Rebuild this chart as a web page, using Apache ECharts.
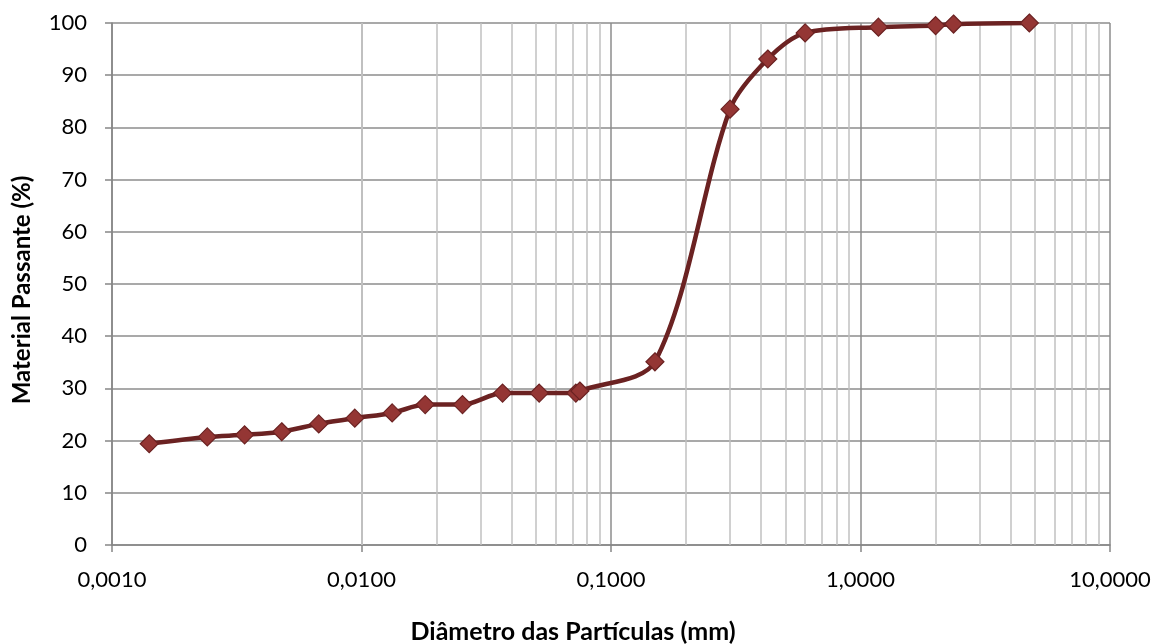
<!DOCTYPE html>
<html>
<head>
<meta charset="utf-8">
<script src="https://cdn.jsdelivr.net/npm/echarts@6/dist/echarts.min.js"></script>
<style>
html,body{margin:0;padding:0;background:#fff;}
#c{width:1154px;height:644px;}
</style>
</head>
<body>
<div id="c"></div>
<script>
// Particle diameter (mm) and percent passing
const diameters = [0.00141, 0.00241, 0.00340, 0.00479, 0.00674, 0.0094, 0.01327, 0.0180, 0.0254, 0.03676, 0.05154, 0.0723, 0.075, 0.15, 0.30, 0.425, 0.60, 1.18, 2.00, 2.36, 4.75];
const passing   = [19.4, 20.7, 21.1, 21.7, 23.2, 24.3, 25.3, 26.9, 26.9, 29.1, 29.1, 29.1, 29.5, 35.1, 83.5, 93.1, 98.1, 99.2, 99.5, 99.8, 100];
// minor (log) gridline positions
const minorGrid = [0.002,0.003,0.004,0.005,0.006,0.007,0.008,0.009,
                   0.02,0.03,0.04,0.05,0.06,0.07,0.08,0.09,
                   0.2,0.3,0.4,0.5,0.6,0.7,0.8,0.9,
                   2,3,4,5,6,7,8,9];
const xTitle = 'Diâmetro das Partículas (mm)';
const yTitle = 'Material Passante (%)';

const FONT = 'Lato';
const chart = echarts.init(document.getElementById('c'), null, {renderer:'canvas'});
chart.setOption({
  animation:false,
  backgroundColor:'#ffffff',
  grid:{left:112, right:44, top:23, bottom:99, containLabel:false, outerBoundsMode:'none'},
  xAxis:{
    type:'log', logBase:10, min:0.001, max:10,
    name:xTitle, nameLocation:'middle', nameGap:74,
    nameTextStyle:{fontFamily:FONT, fontSize:25, fontWeight:'bold', color:'#000', padding:[0,76,0,0]},
    axisLine:{show:true, onZero:false, lineStyle:{color:'#868686', width:1.5}},
    axisTick:{show:true, inside:false, length:7, lineStyle:{color:'#868686', width:1.5}},
    axisLabel:{fontFamily:FONT, fontSize:22, color:'#000', margin:24,
      formatter:v=>v.toFixed(4).replace('.',',')},
    splitLine:{show:true, lineStyle:{color:'#8c8c8c', width:1.5}},
    minorTick:{show:false}, minorSplitLine:{show:false}
  },
  yAxis:{
    type:'value', min:0, max:100, interval:10,
    name:yTitle, nameLocation:'middle', nameGap:78, nameRotate:90,
    nameTextStyle:{fontFamily:FONT, fontSize:24, fontWeight:'bold', color:'#000', padding:[0,12,0,0]},
    axisLine:{show:true, lineStyle:{color:'#868686', width:1.5}},
    axisTick:{show:true, inside:false, length:7, lineStyle:{color:'#868686', width:1.5}},
    axisLabel:{fontFamily:FONT, fontSize:22, color:'#000', margin:25},
    splitLine:{show:true, lineStyle:{color:'#8c8c8c', width:1.5}}
  },
  series:[
    {
      type:'line', data:[], z:1, silent:true,
      markLine:{
        silent:true, symbol:['none','none'], label:{show:false}, animation:false,
        lineStyle:{color:'#c0c0c0', width:1.5, type:'solid'},
        emphasis:{disabled:true},
        data:minorGrid.map(v=>({xAxis:v}))
      }
    },
    {
      type:'line', z:5,
      data:diameters.map((d,i)=>[d, passing[i]]),
      smooth:0.3,
      symbol:'diamond', symbolSize:18,
      lineStyle:{color:'#6b2222', width:4.5},
      itemStyle:{color:'#943634', borderColor:'#6b2222', borderWidth:1.2}
    }
  ]
});
</script>
</body>
</html>
